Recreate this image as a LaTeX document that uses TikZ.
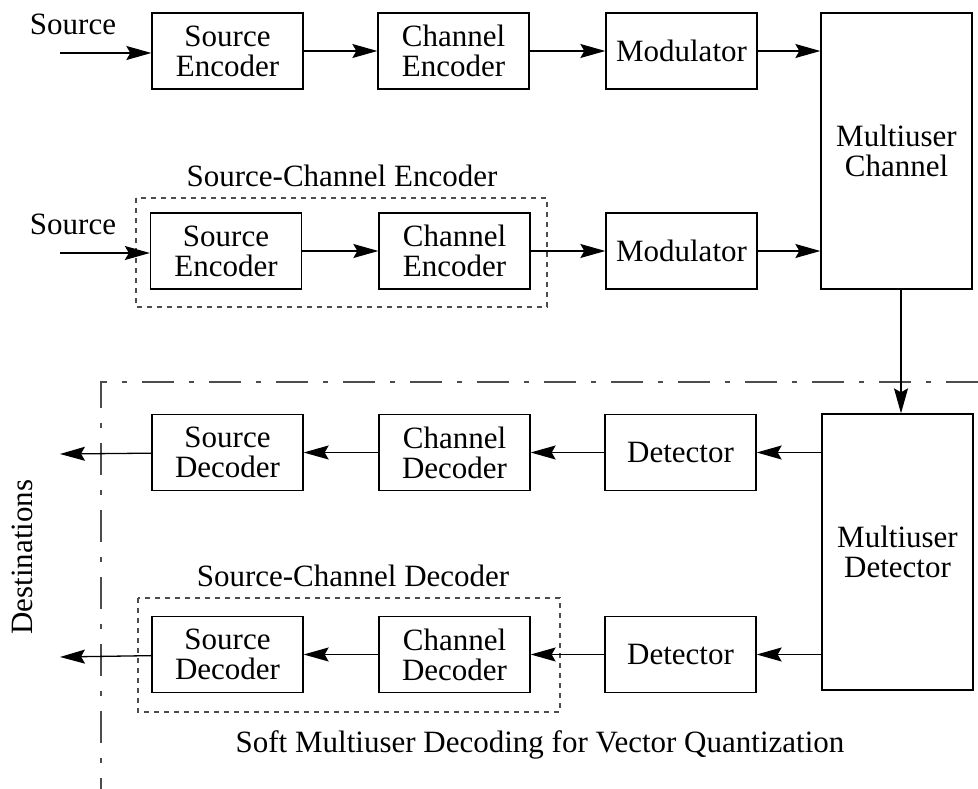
\documentclass[tikz,border=0pt]{standalone}
\usepackage{fontspec}
\setmainfont{Liberation Serif}
\usetikzlibrary{arrows.meta,positioning}
\begin{document}
\begin{tikzpicture}[x=1pt,y=-1pt,
  font=\fontsize{31}{30}\selectfont,
  blk/.style={draw,line width=1.3pt,minimum width=151pt,minimum height=76pt,
    inner sep=0pt,align=center},
  tall/.style={blk,minimum height=276pt},
  flow/.style={line width=1.3pt,-{Stealth[length=25pt,width=14pt,inset=4pt]}},
  grp/.style={draw=black!70,line width=1.1pt,dash pattern=on 5pt off 5pt},
  region/.style={draw=black!70,line width=1.2pt,dash pattern=on 32pt off 15pt on 5pt off 15pt},
  lbl/.style={inner sep=0pt}]
\useasboundingbox (0,0) rectangle (978,789);

% transmitter, first user
\node[blk] (se1) at (227.5,51) {Source\\Encoder};
\node[blk] (ce1) at (453.5,51) {Channel\\Encoder};
\node[blk] (mod1) at (681.5,51) {Modulator};
\node[tall] (muc) at (896.5,151) {Multiuser\\Channel};
\node[lbl] (src1) at (73,24) {Source};
\coordinate (in1) at (60,53);

% transmitter, second user (joint source-channel encoder)
\node[blk] (se2) at (226,251) {Source\\Encoder};
\node[blk] (ce2) at (454.5,251) {Channel\\Encoder};
\node[blk] (mod2) at (681.5,251) {Modulator};
\node[lbl] (src2) at (73,224) {Source};
\coordinate (in2) at (60,253);
\draw[grp] (136,198) rectangle (547,307);
\node[lbl] (sce) at (342,176) {Source-Channel Encoder};

% receiver
\node[tall] (mud) at (897.5,552) {Multiuser\\Detector};
\node[blk] (det1) at (680.5,452.5) {Detector};
\node[blk] (cd1) at (454.5,452.5) {Channel\\Decoder};
\node[blk] (sd1) at (227.5,452.5) {Source\\Decoder};
\node[blk] (det2) at (680.5,654.5) {Detector};
\node[blk] (cd2) at (454.5,654.5) {Channel\\Decoder};
\node[blk] (sd2) at (227.5,654.5) {Source\\Decoder};
\coordinate (out1) at (60,454);
\coordinate (out2) at (60,657);
\draw[grp] (138,598) rectangle (560,712);
\node[lbl] (scd) at (353,576) {Source-Channel Decoder};

% soft decoding region
\draw[region] (978,382) -- (101,382) -- (101,789);
\node[lbl] (soft) at (540,745) {Soft Multiuser Decoding for Vector Quantization};
\node[lbl,rotate=90] (dest) at (22,557) {Destinations};

% signal flow, transmit side
\draw[flow] (in1) -- (in1 -| se1.west);
\draw[flow] (se1) -- (ce1);
\draw[flow] (ce1) -- (mod1);
\draw[flow] (mod1) -- (mod1 -| muc.west);
\draw[flow] (in2) -- (in2 -| se2.west);
\draw[flow] (se2) -- (ce2);
\draw[flow] (ce2) -- (mod2);
\draw[flow] (mod2) -- (mod2 -| muc.west);

% channel to detector
\coordinate (tap) at (901,0);
\draw[flow] (tap |- muc.south) -- (tap |- mud.north);

% signal flow, receive side
\draw[flow] (mud.west |- det1) -- (det1);
\draw[flow] (det1) -- (cd1);
\draw[flow] (cd1) -- (sd1);
\draw[flow] (sd1) -- (out1);
\draw[flow] (mud.west |- det2) -- (det2);
\draw[flow] (det2) -- (cd2);
\draw[flow] (cd2) -- (sd2);
\draw[flow] (sd2) -- (out2);
\end{tikzpicture}
\end{document}
